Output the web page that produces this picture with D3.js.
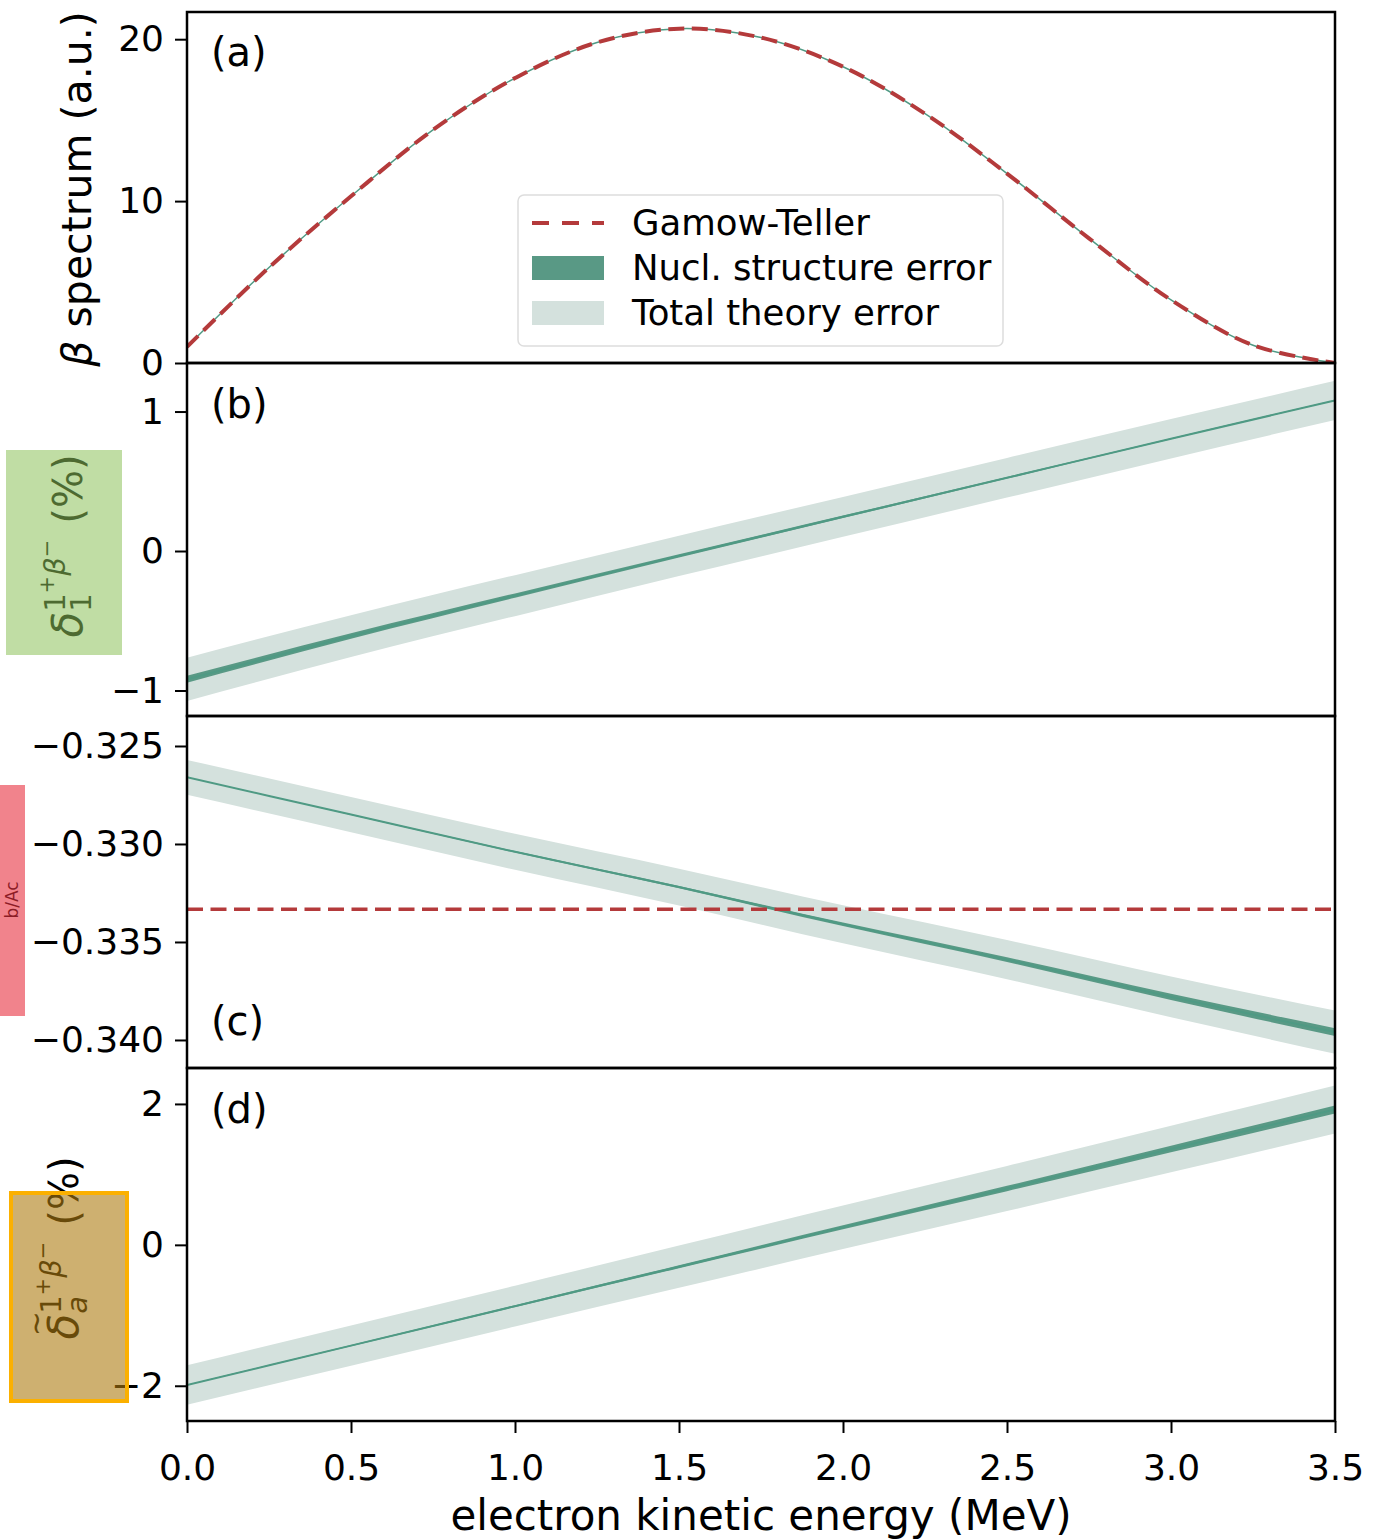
<!DOCTYPE html>
<html>
<head>
<meta charset="utf-8">
<script src="https://cdn.jsdelivr.net/npm/d3@7"></script>
<style>
  body { margin: 0; background: #fff; }
  text { font-family: "DejaVu Sans", sans-serif; fill: #000; }
</style>
</head>
<body>
<svg id="chart" width="1386" height="1539"></svg>
<script>
// (a) beta spectrum
var energy = [0, 0.25, 0.5, 0.75, 1.0, 1.25, 1.5, 1.75, 2.0, 2.25, 2.5, 2.75, 3.0, 3.25, 3.5];
var spectrum = [1.0, 5.9, 10.3, 14.4, 17.6, 19.8, 20.65, 20.1, 18.3, 15.4, 11.7, 7.7, 3.9, 1.1, 0.0];

// (b)-(d) corrections, sampled every 0.5 MeV
var energyCoarse = [0, 0.5, 1.0, 1.5, 2.0, 2.5, 3.0, 3.5];
var deltaB = [-0.92, -0.61, -0.32, -0.035, 0.245, 0.525, 0.805, 1.08];
var deltaBNucl = [0.025, 0.02, 0.016, 0.012, 0.009, 0.006, 0.004, 0.003];
var deltaBTotal = [0.155, 0.15, 0.147, 0.145, 0.143, 0.142, 0.141, 0.14];

var deltaC = [-0.3266, -0.3285, -0.3304, -0.3322, -0.3341, -0.3359, -0.3378, -0.3396];
var deltaCNucl = [0.00001, 0.00002, 0.00004, 0.00006, 0.00009, 0.00012, 0.00016, 0.0002];
var deltaCTotal = [0.00089, 0.0009, 0.00092, 0.00094, 0.00097, 0.001, 0.00104, 0.0011];
var gtRatio = -1 / 3;

var deltaD = [-1.99, -1.43, -0.87, -0.31, 0.25, 0.80, 1.36, 1.92];
var deltaDNucl = [0.003, 0.008, 0.014, 0.021, 0.029, 0.038, 0.047, 0.057];
var deltaDTotal = [0.28, 0.285, 0.29, 0.3, 0.31, 0.32, 0.33, 0.34];

var xTicks = [0, 0.5, 1.0, 1.5, 2.0, 2.5, 3.0, 3.5];
var legendLabels = ['Gamow-Teller', 'Nucl. structure error', 'Total theory error'];

var red = '#b43a3b', teal = '#4f9a84', dark = '#599985', light = '#d4e1dd';
var dash = '16,7.5';

var svg = d3.select('#chart');
var left = 187, right = 1335;
var x = d3.scaleLinear().domain([0, 3.5]).range([left, right]);

var panels = [
    { top: 12, bottom: 363, domain: [0, 21.68], ticks: [0, 10, 20], fmt: d3.format('d'), tag: '(a)', tagY: 66 },
    { top: 363, bottom: 716, domain: [-1.183, 1.348], ticks: [-1, 0, 1], fmt: d3.format('d'), tag: '(b)', tagY: 418 },
    { top: 716, bottom: 1068, domain: [-0.34143, -0.32347], ticks: [-0.340, -0.335, -0.330, -0.325], fmt: d3.format('.3f'), tag: '(c)', tagY: 1035 },
    { top: 1068, bottom: 1421, domain: [-2.5, 2.51], ticks: [-2, 0, 2], fmt: d3.format('d'), tag: '(d)', tagY: 1123 }
];

function drawBands(g, y, mid, nucl, total) {
    var pts = energyCoarse.map(function(e, i) {
        return { e: e, m: mid[i], n: nucl[i], t: total[i] };
    });
    g.append('path')
        .attr('d', d3.area().curve(d3.curveMonotoneX)
            .x(function(d) { return x(d.e); })
            .y0(function(d) { return y(d.m - d.t); })
            .y1(function(d) { return y(d.m + d.t); })(pts))
        .attr('fill', light);
    g.append('path')
        .attr('d', d3.area().curve(d3.curveMonotoneX)
            .x(function(d) { return x(d.e); })
            .y0(function(d) { return y(d.m - d.n); })
            .y1(function(d) { return y(d.m + d.n); })(pts))
        .attr('fill', dark);
    g.append('path')
        .attr('d', d3.line().curve(d3.curveMonotoneX)
            .x(function(d) { return x(d.e); })
            .y(function(d) { return y(d.m); })(pts))
        .attr('fill', 'none').attr('stroke', teal).attr('stroke-width', 2);
}

panels.forEach(function(p, i) {
    var y = d3.scaleLinear().domain(p.domain).range([p.bottom, p.top]);

    svg.append('clipPath').attr('id', 'clip' + i)
        .append('rect').attr('x', left).attr('y', p.top)
        .attr('width', right - left).attr('height', p.bottom - p.top);
    var g = svg.append('g').attr('clip-path', 'url(#clip' + i + ')');

    if (i === 0) {
        var line = d3.line().curve(d3.curveCatmullRom)
            .x(function(d, k) { return x(energy[k]); })
            .y(function(d) { return y(d); });
        g.append('path').attr('d', line(spectrum))
            .attr('fill', 'none').attr('stroke', teal).attr('stroke-width', 1.5);
        g.append('path').attr('d', line(spectrum))
            .attr('fill', 'none').attr('stroke', red).attr('stroke-width', 4)
            .attr('stroke-dasharray', dash);
    } else if (i === 1) {
        drawBands(g, y, deltaB, deltaBNucl, deltaBTotal);
    } else if (i === 2) {
        drawBands(g, y, deltaC, deltaCNucl, deltaCTotal);
        g.append('line').attr('x1', left).attr('x2', right)
            .attr('y1', y(gtRatio)).attr('y2', y(gtRatio))
            .attr('stroke', red).attr('stroke-width', 3.6)
            .attr('stroke-dasharray', dash);
    } else {
        drawBands(g, y, deltaD, deltaDNucl, deltaDTotal);
    }

    var ax = svg.append('g').attr('transform', 'translate(' + left + ',0)')
        .call(d3.axisLeft(y).tickValues(p.ticks).tickFormat(p.fmt).tickSize(12).tickPadding(11));
    ax.select('.domain').remove();
    ax.selectAll('line').attr('stroke', '#000').attr('stroke-width', 2);
    ax.selectAll('text').style('font-size', '36px').attr('fill', '#000');

    svg.append('rect').attr('x', left).attr('y', p.top)
        .attr('width', right - left).attr('height', p.bottom - p.top)
        .attr('fill', 'none').attr('stroke', '#000').attr('stroke-width', 2.5);

    svg.append('text').attr('x', 211).attr('y', p.tagY)
        .style('font-size', '40px').text(p.tag);
});

// bottom x axis
var xa = svg.append('g').attr('transform', 'translate(0,1421)')
    .call(d3.axisBottom(x).tickValues(xTicks).tickFormat(d3.format('.1f')).tickSize(12).tickPadding(21));
xa.select('.domain').remove();
xa.selectAll('line').attr('stroke', '#000').attr('stroke-width', 2);
xa.selectAll('text').style('font-size', '36px').attr('fill', '#000');

svg.append('text').attr('x', (left + right) / 2).attr('y', 1530)
    .attr('text-anchor', 'middle').style('font-size', '42px')
    .text('electron kinetic energy (MeV)');

// y label of (a)
var ya = svg.append('text').attr('transform', 'translate(91,189) rotate(-90)')
    .attr('text-anchor', 'middle').style('font-size', '41px');
ya.append('tspan').style('font-style', 'italic').text('β');
ya.append('tspan').text(' spectrum (a.u.)');

// math-like label built piece by piece, then centred
function mathLabel(bx, cy, sub, tilde) {
    var g = svg.append('g');
    var inner = g.append('g');
    var pos = 0;
    function piece(str, size, shift, italic, advance) {
        var t = inner.append('text').attr('x', pos).attr('y', -shift)
            .style('font-size', size + 'px').text(str);
        if (italic) t.style('font-style', 'italic');
        var w = t.node().getComputedTextLength();
        if (advance !== false) pos += w;
        return w;
    }
    var dw = piece('δ', 42, 0, true);
    if (tilde) {
        inner.append('text').attr('x', pos - dw / 2 + 3).attr('y', -32)
            .attr('text-anchor', 'middle').style('font-size', '30px').text('~');
    }
    piece(sub, 29, -9, sub === 'a', false);
    piece('1', 29, 17, false);
    piece('+', 21, 28, false);
    piece('β', 29, 17, true);
    piece('−', 21, 28, false);
    pos += 16;
    piece('(%)', 40, 0, false);
    inner.attr('transform', 'translate(' + (-pos / 2) + ',0)');
    g.attr('transform', 'translate(' + bx + ',' + cy + ') rotate(-90)');
}
mathLabel(82, 546, '1', false);
mathLabel(78, 1248, 'a', true);

// (c) label, squeezed into the strip at the left edge
svg.append('text').attr('transform', 'translate(18,900) rotate(-90)')
    .attr('text-anchor', 'middle').style('font-size', '17px').text('b/Ac');

// legend
var lg = svg.append('g');
lg.append('rect').attr('x', 518).attr('y', 195).attr('width', 485).attr('height', 151)
    .attr('rx', 6).attr('fill', '#fff').attr('fill-opacity', 0.85)
    .attr('stroke', '#ddd').attr('stroke-width', 1.5);
legendLabels.forEach(function(lab, i) {
    var cy = 223 + i * 45;
    if (i === 0) {
        lg.append('line').attr('x1', 532).attr('x2', 604).attr('y1', cy).attr('y2', cy)
            .attr('stroke', red).attr('stroke-width', 4).attr('stroke-dasharray', '17,13');
    } else {
        lg.append('rect').attr('x', 532).attr('y', cy - 12).attr('width', 72).attr('height', 24)
            .attr('fill', i === 1 ? dark : light);
    }
    lg.append('text').attr('x', 632).attr('y', cy + 12)
        .style('font-size', '35.5px').text(lab);
});

// translucent marks laid over the y labels
svg.append('rect').attr('x', 6).attr('y', 450).attr('width', 116).attr('height', 205)
    .attr('fill', '#8cc15a').attr('fill-opacity', 0.55);
svg.append('rect').attr('x', 0).attr('y', 785).attr('width', 25).attr('height', 231)
    .attr('fill', '#e8303f').attr('fill-opacity', 0.6);
svg.append('rect').attr('x', 11).attr('y', 1193).attr('width', 116).attr('height', 208)
    .attr('fill', '#ad7b11').attr('fill-opacity', 0.6)
    .attr('stroke', '#fbb000').attr('stroke-width', 4);
</script>
</body>
</html>
